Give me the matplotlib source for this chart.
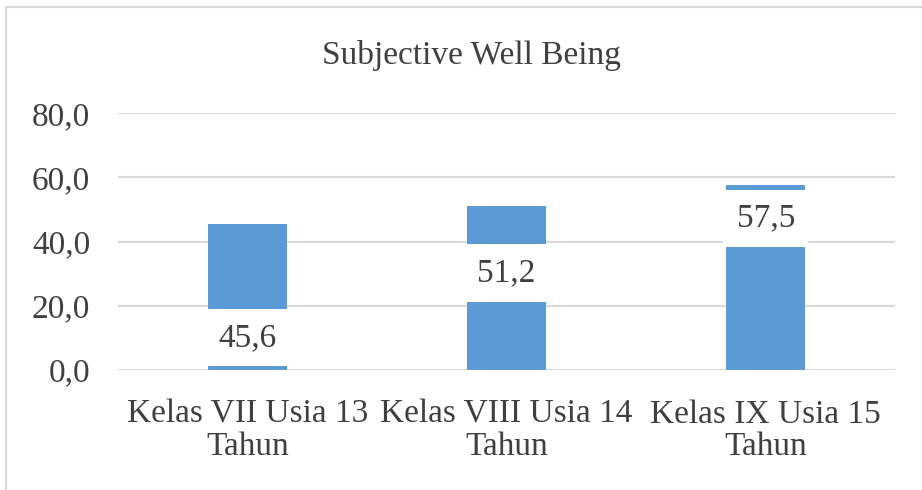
import matplotlib.pyplot as plt
from matplotlib.patches import Rectangle

categories = ["Kelas VII Usia 13\nTahun", "Kelas VIII Usia 14\nTahun", "Kelas IX Usia 15\nTahun"]
values = [45.6, 51.2, 57.5]
value_labels = ["45,6", "51,2", "57,5"]
yticks = [0, 20, 40, 60, 80]
ytick_labels = ["0,0", "20,0", "40,0", "60,0", "80,0"]
# where the (oddly placed) data labels sit, in data units
label_y = [10.0, 30.2, 47.3]

plt.rcParams['font.family'] = ['Liberation Serif', 'DejaVu Serif']
txt = '#404040'

fig = plt.figure(figsize=(9.22, 4.90), dpi=100)
ax = fig.add_axes([0.128, 0.245, 0.843, 0.524])

x = list(range(len(categories)))
ax.bar(x, values, width=0.305, color='#5b9bd5', zorder=2)
for xi, yl, lab in zip(x, label_y, value_labels):
    ax.text(xi, yl, lab, ha='center', va='center', fontsize=24, color=txt, zorder=3,
            bbox=dict(boxstyle='square,pad=0.4', fc='white', ec='none'))

ax.set_xlim(-0.5, 2.5)
ax.set_ylim(0, 80)
ax.set_yticks(yticks)
ax.set_yticklabels(ytick_labels)
ax.set_xticks(x)
ax.set_xticklabels(categories, linespacing=1.1)
ax.tick_params(axis='y', length=0, pad=20, labelsize=24, labelcolor=txt)
ax.tick_params(axis='x', length=0, pad=21, labelsize=24, labelcolor=txt)
ax.grid(axis='y', color='#d9d9d9', lw=1.5, zorder=0)
for s in ax.spines.values():
    s.set_visible(False)

fig.text(471 / 922, 1 - 64 / 490, "Subjective Well Being", ha='center', va='baseline',
         fontsize=24, color=txt)

fig.patches.append(Rectangle((6 / 922, -0.1), 1.2, 1.1 - 7 / 490, transform=fig.transFigure,
                             fill=False, ec='#d9d9d9', lw=1.5))

fig.savefig("out.png", dpi=100)
